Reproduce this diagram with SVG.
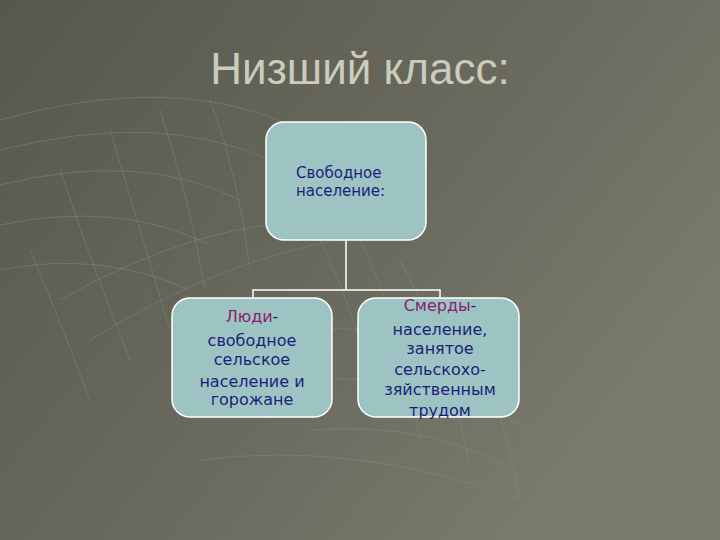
<svg xmlns="http://www.w3.org/2000/svg" width="720" height="540" viewBox="0 0 720 540">
<defs>
<linearGradient id="bg" x1="0" y1="0" x2="1" y2="0.6">
<stop offset="0" stop-color="#57574d"/>
<stop offset="0.6" stop-color="#6a6a5e"/>
<stop offset="1" stop-color="#7b7b6e"/>
</linearGradient>
<style>
.box{fill:#9dc4c3;stroke:#ffffff;stroke-width:1.5}
.t{font-family:"DejaVu Sans","Liberation Sans",sans-serif;font-size:16px;fill:#1c1f7a}
.s{font-size:15px}
.m{fill:#8a1f6e}
.c{text-anchor:middle}
.mesh{fill:none;stroke:#8c8c7e;stroke-width:1;opacity:0.45}
.conn{fill:none;stroke:#ffffff;stroke-width:1.5}
</style>
</defs>
<rect width="720" height="540" fill="url(#bg)"/>
<g id="mesh">
<path class="mesh" d="M0 120 Q180 70 300 130"/>
<path class="mesh" d="M0 150 Q160 110 270 160"/>
<path class="mesh" d="M0 185 Q140 150 240 200"/>
<path class="mesh" d="M0 225 Q120 200 210 245"/>
<path class="mesh" d="M0 270 Q100 250 190 290"/>
<path class="mesh" d="M90 340 Q220 260 340 240"/>
<path class="mesh" d="M60 300 Q200 220 330 220"/>
<path class="mesh" d="M30 250 Q60 320 90 400"/>
<path class="mesh" d="M60 170 Q90 260 130 360"/>
<path class="mesh" d="M110 130 Q140 230 170 330"/>
<path class="mesh" d="M160 110 Q190 200 205 290"/>
<path class="mesh" d="M210 100 Q240 180 250 270"/>
<path class="mesh" d="M320 240 Q360 320 380 420"/>
<path class="mesh" d="M360 240 Q400 320 420 440"/>
<path class="mesh" d="M400 260 Q450 350 470 470"/>
<path class="mesh" d="M440 290 Q500 380 520 500"/>
<path class="mesh" d="M300 330 Q420 320 520 380"/>
<path class="mesh" d="M300 380 Q430 370 530 430"/>
<path class="mesh" d="M310 430 Q440 420 530 480"/>
<path class="mesh" d="M200 460 Q360 440 520 500"/>
</g>
<text x="360" y="84" text-anchor="middle" font-family="Liberation Sans, Arial, sans-serif" font-size="44" fill="#cbcbbe">Низший класс:</text>
<g id="connectors">
<path class="conn" d="M346 240 V290 M253 298 V290 H440 V298"/>
</g>
<g id="top">
<rect class="box" x="266" y="122" width="160" height="118" rx="18"/>
<text class="t s" x="296" y="178">Свободное</text>
<text class="t s" x="296" y="196">население:</text>
</g>
<g id="left">
<rect class="box" x="172" y="298" width="160" height="119" rx="18"/>
<text class="t c" x="252" y="322"><tspan class="m">Люди</tspan>-</text>
<text class="t c" x="252" y="346">свободное</text>
<text class="t c" x="252" y="365">сельское</text>
<text class="t c" x="252" y="387">население и</text>
<text class="t c" x="252" y="405">горожане</text>
</g>
<g id="right">
<rect class="box" x="358" y="298" width="161" height="119" rx="18"/>
<text class="t c" x="440" y="311"><tspan class="m">Смерды</tspan>-</text>
<text class="t c" x="440" y="335">население,</text>
<text class="t c" x="440" y="354">занятое</text>
<text class="t c" x="440" y="375">сельскохо-</text>
<text class="t c" x="440" y="395">зяйственным</text>
<text class="t c" x="440" y="416">трудом</text>
</g>
</svg>
